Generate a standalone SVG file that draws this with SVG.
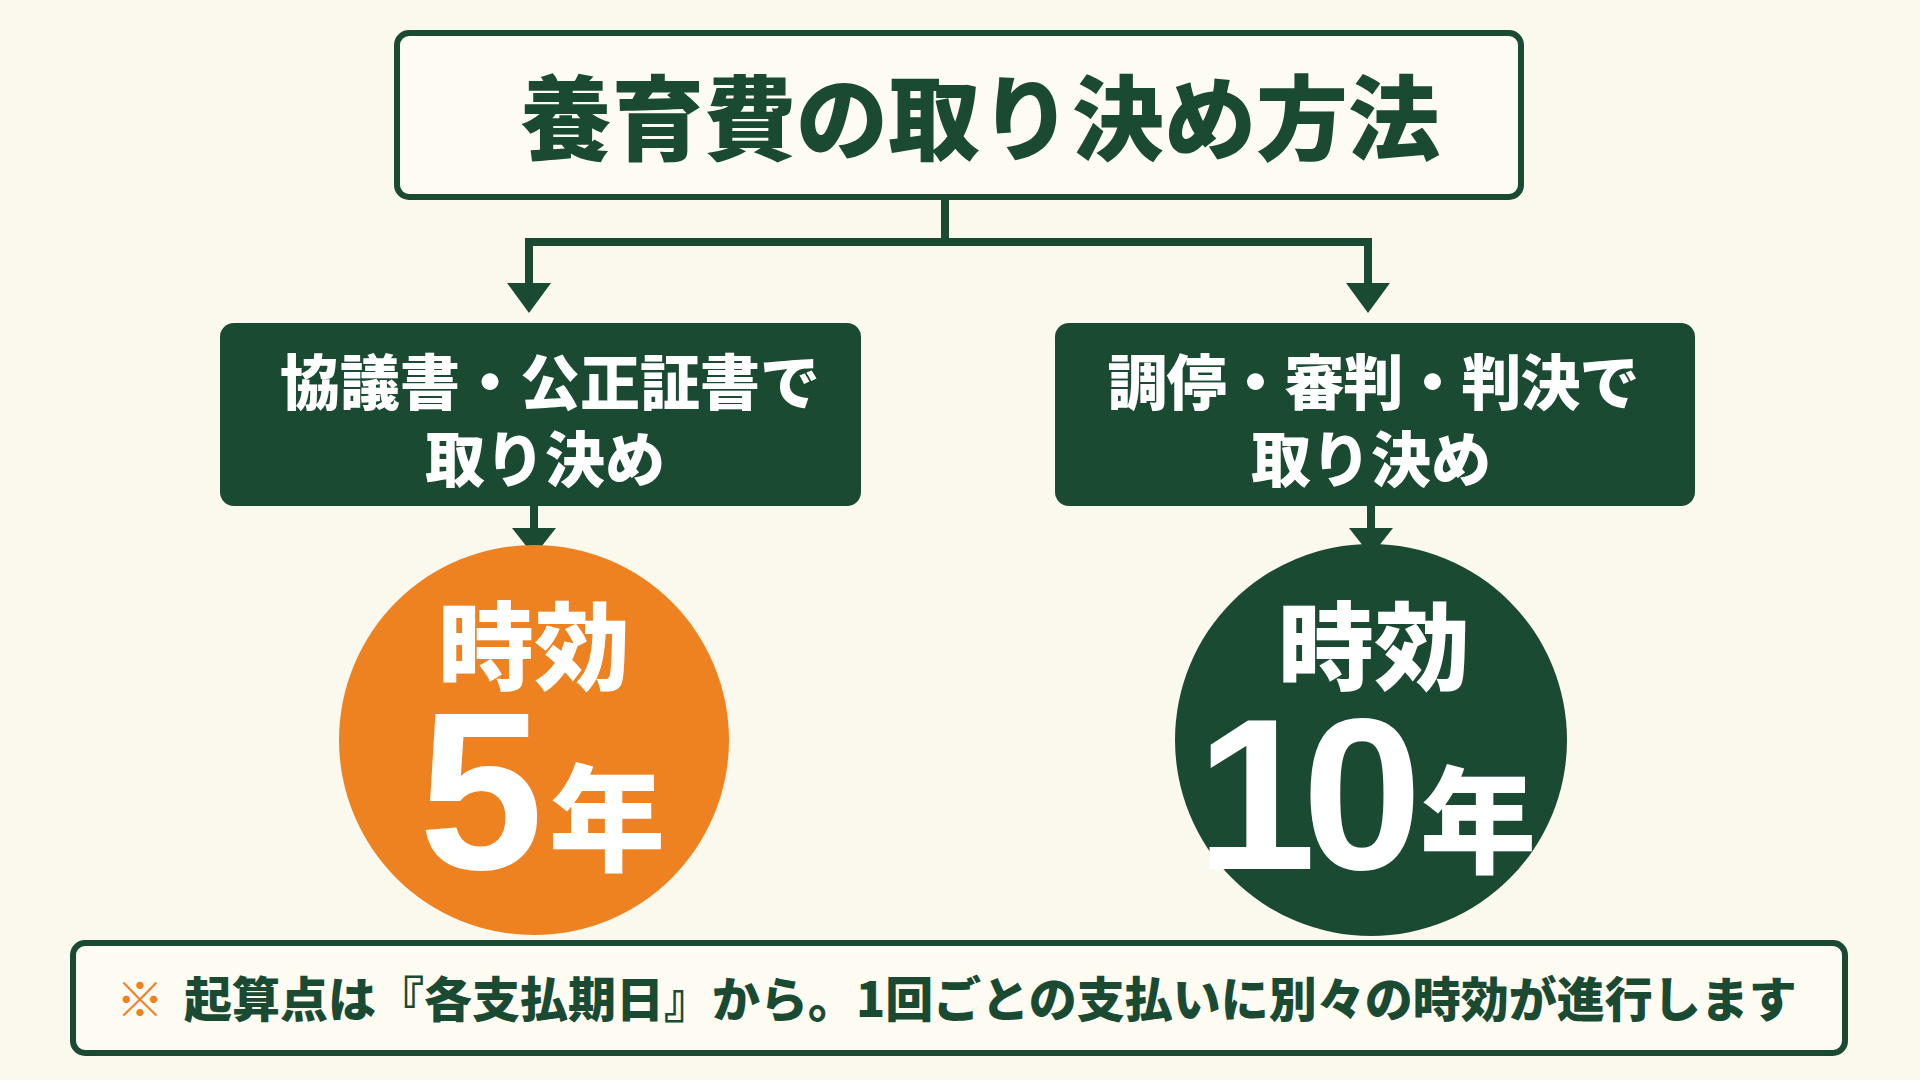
<svg xmlns="http://www.w3.org/2000/svg" width="1920" height="1080" viewBox="0 0 1920 1080">
<defs>
<style>
.jp{font-family:"Noto Sans CJK JP","Noto Sans CJK SC",sans-serif;font-weight:900}
.num{font-family:"Liberation Sans","Noto Sans CJK JP",sans-serif;font-weight:700}
.green{fill:#1b4a33}
.white{fill:#ffffff}
.outline{fill:#fdfbf2;stroke:#1b4a33;stroke-width:6}
.line{fill:none;stroke:#1b4a33;stroke-width:8}
.head{fill:#1b4a33}
</style>
</defs>
<rect x="0" y="0" width="1920" height="1080" fill="#fbf8ee"/>

<g id="connectors">
<polyline class="line" points="945,197 945,242"/>
<polyline class="line" points="529,285 529,242 1368,242 1368,285"/>
<polygon class="head" points="507,283 551,283 529,313"/>
<polygon class="head" points="1346,283 1390,283 1368,313"/>
<polyline class="line" points="534,506 534,530"/>
<polygon class="head" points="512,528 556,528 534,556"/>
<polyline class="line" points="1371,506 1371,530"/>
<polygon class="head" points="1349,528 1393,528 1371,556"/>
</g>

<g id="title">
<rect class="outline" x="397" y="33" width="1124" height="164" rx="12"/>
<text class="jp green" x="980" y="153" font-size="92" text-anchor="middle">養育費の取り決め方法</text>
</g>

<g id="node-left">
<rect class="green" x="220" y="323" width="641" height="183" rx="14"/>
<text class="jp white" x="550" y="405" font-size="60" text-anchor="middle">協議書・公正証書で</text>
<text class="jp white" x="545" y="482" font-size="60" text-anchor="middle">取り決め</text>
</g>

<g id="node-right">
<rect class="green" x="1055" y="323" width="640" height="183" rx="14"/>
<text class="jp white" x="1373" y="405" font-size="60" text-anchor="middle" letter-spacing="-1">調停・審判・判決で</text>
<text class="jp white" x="1371" y="482" font-size="60" text-anchor="middle">取り決め</text>
</g>

<g id="circle-left">
<circle cx="534" cy="740" r="195" fill="#ee8220"/>
<text class="jp white" x="534" y="682" font-size="96" text-anchor="middle">時効</text>
<text class="num white" x="481" y="869" font-size="224" text-anchor="middle">5</text>
<text class="jp white" x="607" y="862" font-size="116" text-anchor="middle">年</text>
</g>

<g id="circle-right">
<circle cx="1371" cy="740" r="196" fill="#1b4a33"/>
<text class="jp white" x="1374" y="682" font-size="96" text-anchor="middle">時効</text>
<text class="num white" y="869" font-size="216"><tspan x="1196">1</tspan><tspan x="1302">0</tspan></text>
<text class="jp white" x="1478" y="864" font-size="116" text-anchor="middle">年</text>
</g>

<g id="note">
<rect class="outline" x="73" y="943" width="1772" height="110" rx="12"/>
<text class="jp" x="116" y="1017" font-size="48" fill="#ee8220">※</text>
<text class="jp green" x="184" y="1017" font-size="48">起算点は『各支払期日』から。1回ごとの支払いに別々の時効が進行します</text>
</g>
</svg>
